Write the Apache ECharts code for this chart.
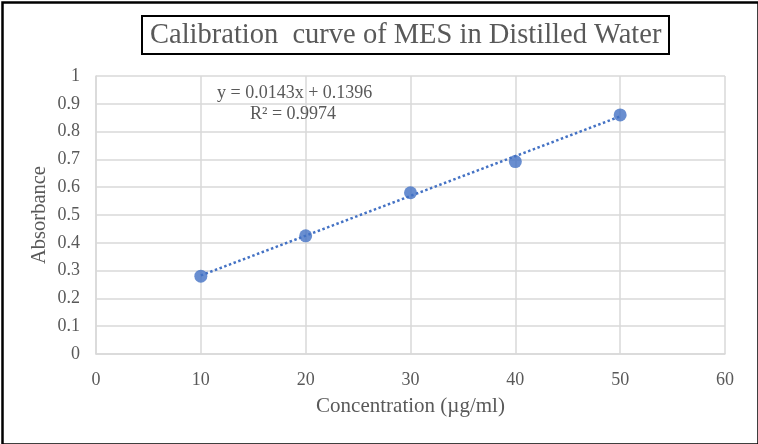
<!DOCTYPE html>
<html>
<head>
<meta charset="utf-8">
<script src="https://cdn.jsdelivr.net/npm/echarts@6/dist/echarts.min.js"></script>
<style>
  html, body { margin: 0; padding: 0; background: #fff; }
  #main { width: 758px; height: 444px; }
</style>
</head>
<body>
<div id="main"></div>
<script>
// data
var concentration = [10, 20, 30, 40, 50];
var absorbance = [0.28, 0.425, 0.58, 0.692, 0.86];
// linear trendline as printed on the chart
var slope = 0.0143;
var intercept = 0.1396;
var rSquared = 0.9974;
var trendX = [10, 50];

var serif = '"Liberation Serif", "DejaVu Serif", serif';
var textGray = '#595959';
var blue = '#4472C4';

var trendData = trendX.map(function (x) {
  return [x, slope * x + intercept];
});

var chart = echarts.init(document.getElementById('main'));

var option = {
  animation: false,
  backgroundColor: '#fff',
  title: {
    text: 'Calibration  curve of MES in Distilled Water',
    left: 142,
    top: 16,
    padding: [5, 8, 4, 8],
    borderColor: '#000',
    borderWidth: 2,
    textStyle: {
      fontFamily: serif,
      fontSize: 28.5,
      fontWeight: 'normal',
      color: textGray
    }
  },
  grid: {
    left: 96,
    right: 33,
    top: 76,
    bottom: 90
  },
  xAxis: {
    type: 'value',
    min: 0,
    max: 60,
    interval: 10,
    name: 'Concentration (µg/ml)',
    nameLocation: 'middle',
    nameGap: 42,
    nameMoveOverlap: false,
    nameTextStyle: { fontFamily: serif, fontSize: 21, color: textGray },
    axisLine: { show: true, lineStyle: { color: '#d9d9d9', width: 1.5 } },
    axisTick: { show: false },
    axisLabel: { fontFamily: serif, fontSize: 18, color: textGray, margin: 17 },
    splitLine: { show: true, lineStyle: { color: '#d9d9d9', width: 1.5 } }
  },
  yAxis: {
    type: 'value',
    min: 0,
    max: 1,
    interval: 0.1,
    name: 'Absorbance',
    nameLocation: 'middle',
    nameGap: 46,
    nameMoveOverlap: false,
    nameTextStyle: { fontFamily: serif, fontSize: 20.5, color: textGray },
    axisLine: { show: true, lineStyle: { color: '#d9d9d9', width: 1.5 } },
    axisTick: { show: false },
    axisLabel: { fontFamily: serif, fontSize: 18, color: textGray, margin: 16 },
    splitLine: { show: true, lineStyle: { color: '#d9d9d9', width: 1.5 } }
  },
  graphic: [
    {
      type: 'rect',
      left: 0,
      top: 0,
      shape: { width: 756, height: 442 },
      style: { fill: 'none', stroke: '#000', lineWidth: 2.5 },
      z: 100
    },
    {
      type: 'text',
      left: 217,
      top: 84,
      style: {
        text: 'y = ' + slope + 'x + ' + intercept,
        font: '18px ' + serif,
        fill: textGray
      },
      z: 50
    },
    {
      type: 'text',
      left: 250,
      top: 105,
      style: {
        text: 'R² = ' + rSquared,
        font: '18px ' + serif,
        fill: textGray
      },
      z: 50
    }
  ],
  series: [
    {
      name: 'Trendline',
      type: 'line',
      data: trendData,
      symbol: 'none',
      lineStyle: { color: blue, width: 2.5, type: 'dotted' },
      z: 2
    },
    {
      name: 'Absorbance',
      type: 'scatter',
      data: concentration.map(function (x, i) { return [x, absorbance[i]]; }),
      symbol: 'circle',
      symbolSize: 13,
      itemStyle: { color: blue },
      z: 3
    }
  ]
};

chart.setOption(option);
</script>
</body>
</html>
